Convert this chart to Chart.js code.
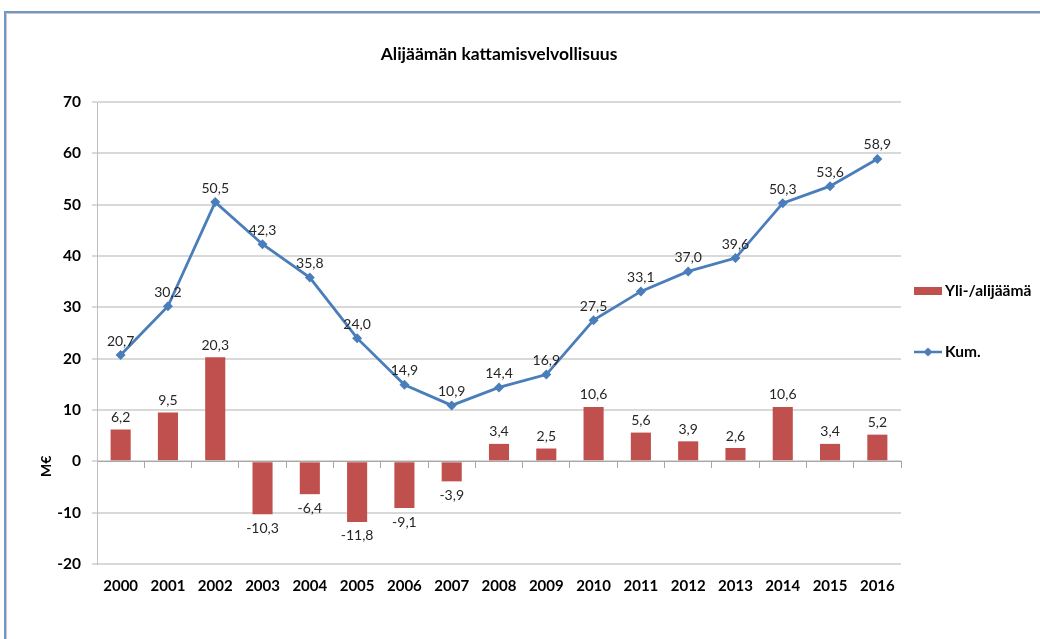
<!DOCTYPE html>
<html>
<head>
<meta charset="utf-8">
<script src="https://cdn.jsdelivr.net/npm/chart.js@4"></script>
<style>
  body { margin: 0; background: #fff; }
  #wrap { position: absolute; left: 0; top: 0; width: 1040px; height: 639px; }
  #frame { position: absolute; left: 4px; top: 11px; width: 1100px; height: 700px;
           border-top: 2px solid #7196c8; border-left: 2px solid #7196c8;
           box-shadow: inset 1px 1px 0 #c8c8c8; pointer-events: none; }
</style>
</head>
<body>
<div id="wrap"><canvas id="myChart"></canvas></div>
<div id="frame"></div>
<script>
// data
let years = ['2000','2001','2002','2003','2004','2005','2006','2007','2008','2009','2010','2011','2012','2013','2014','2015','2016']
let surplus = [6.2, 9.5, 20.3, -10.3, -6.4, -11.8, -9.1, -3.9, 3.4, 2.5, 10.6, 5.6, 3.9, 2.6, 10.6, 3.4, 5.2]
let cumulative = [20.7, 30.2, 50.5, 42.3, 35.8, 24.0, 14.9, 10.9, 14.4, 16.9, 27.5, 33.1, 37.0, 39.6, 50.3, 53.6, 58.9]
let yTicks = [-20, -10, 0, 10, 20, 30, 40, 50, 60, 70]

const barColor = '#c0504d'
const lineColor = '#4a7ebb'
const FONT = 'Lato'

function fmt(v){ return v.toFixed(1).replace('.', ',') }

function diamond(ctx, x, y, r){
    ctx.beginPath()
    ctx.moveTo(x, y - r); ctx.lineTo(x + r, y); ctx.lineTo(x, y + r); ctx.lineTo(x - r, y)
    ctx.closePath(); ctx.fill()
}

// value labels, axis title and legend drawn on canvas
const extras = {
    id: 'extras',
    afterDatasetsDraw(chart){
        const ctx = chart.ctx
        ctx.save()
        ctx.font = '14px ' + FONT
        ctx.fillStyle = '#262626'
        ctx.textAlign = 'center'
        chart.getDatasetMeta(0).data.forEach((el, i) => {
            let v = surplus[i]
            if (v >= 0){ ctx.textBaseline = 'bottom'; ctx.fillText(fmt(v), el.x, el.y - 5) }
            else { ctx.textBaseline = 'top'; ctx.fillText(fmt(v), el.x, el.y + 7) }
        })
        ctx.textBaseline = 'bottom'
        chart.getDatasetMeta(1).data.forEach((el, i) => {
            ctx.fillText(fmt(cumulative[i]), el.x, el.y - 7)
        })

        // y axis title
        let y0 = chart.scales.y.getPixelForValue(0)
        ctx.translate(46, y0 + 5)
        ctx.rotate(-Math.PI / 2)
        ctx.font = 'bold 14px ' + FONT
        ctx.fillStyle = '#000'
        ctx.textBaseline = 'middle'
        ctx.fillText('M€', 0, 0)
        ctx.restore()

        // legend
        ctx.save()
        let lx = chart.chartArea.right + 13
        let ly1 = 291, ly2 = 352
        ctx.fillStyle = barColor
        ctx.fillRect(lx, ly1 - 4, 28, 8)
        ctx.strokeStyle = lineColor
        ctx.lineWidth = 2.5
        ctx.beginPath(); ctx.moveTo(lx, ly2); ctx.lineTo(lx + 28, ly2); ctx.stroke()
        ctx.fillStyle = lineColor
        diamond(ctx, lx + 14, ly2, 4.5)
        ctx.font = 'bold 15.5px ' + FONT
        ctx.fillStyle = '#000'
        ctx.textAlign = 'left'
        ctx.textBaseline = 'middle'
        ctx.fillText(chart.data.datasets[0].label, lx + 31, ly1)
        ctx.fillText(chart.data.datasets[1].label, lx + 31, ly2)
        ctx.restore()
    }
}

var ctx = document.getElementById('myChart').getContext('2d');
var chart = new Chart(ctx, {
    type: 'bar',
    data: {
        labels: years,
        datasets: [{
            label: 'Yli-/alijäämä',
            data: surplus,
            backgroundColor: barColor,
            barPercentage: 0.85,
            categoryPercentage: 0.5,
            order: 1
        }, {
            type: 'line',
            label: 'Kum.',
            data: cumulative,
            borderColor: lineColor,
            backgroundColor: lineColor,
            borderWidth: 2.8,
            pointStyle: 'rectRot',
            pointRadius: 5,
            pointBorderWidth: 0,
            tension: 0,
            order: 0
        }]
    },
    options: {
        responsive: true,
        maintainAspectRatio: false,
        animation: false,
        layout: { padding: { left: 0, right: 139, top: 0, bottom: 39 } },
        plugins: {
            legend: { display: false },
            tooltip: { enabled: false },
            title: {
                display: true,
                text: 'Alijäämän kattamisvelvollisuus',
                fullSize: false,
                color: '#000',
                font: { family: FONT, size: 17.5, weight: 'bold' },
                padding: { top: 44, bottom: 37 }
            }
        },
        scales: {
            x: {
                grid: { display: false },
                border: { display: false },
                ticks: { color: '#000', font: { family: FONT, size: 15, weight: 'bold' }, padding: 5 }
            },
            x0: {
                type: 'category',
                position: { y: 0 },
                offset: true,
                grid: { offset: true, drawOnChartArea: false, tickLength: 6, color: '#a6a6a6' },
                border: { color: '#a6a6a6' },
                ticks: { display: false }
            },
            y: {
                min: -20,
                max: 70,
                afterBuildTicks: s => { s.ticks = yTicks.map(v => ({ value: v })) },
                afterFit: s => { s.width = 97 },
                grid: { color: '#d9d9d9', lineWidth: 2, tickLength: 5 },
                border: { color: '#bfbfbf' },
                ticks: { color: '#000', font: { family: FONT, size: 15.5, weight: 'bold' }, padding: 11 }
            }
        }
    },
    plugins: [extras]
});
</script>
</body>
</html>
